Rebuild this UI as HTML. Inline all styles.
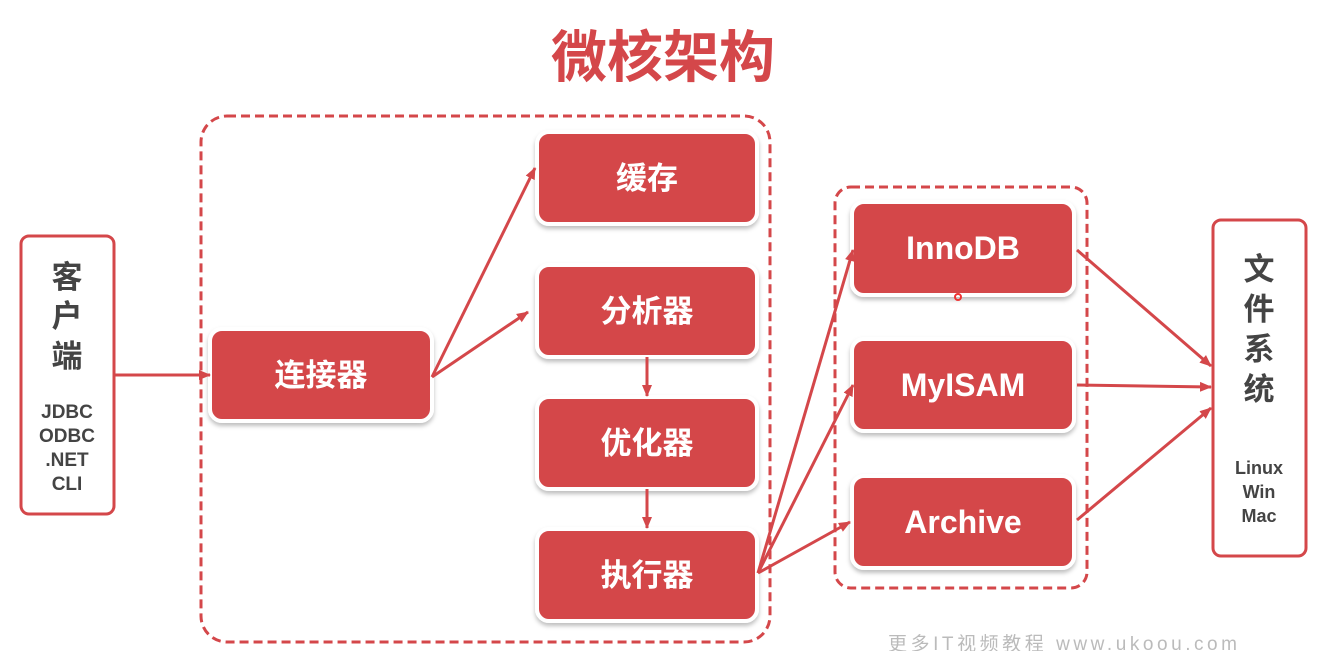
<!DOCTYPE html>
<html><head><meta charset="utf-8"><style>
body{margin:0;background:#fff;}
svg{display:block;}
text{font-family:"Liberation Sans","Noto Sans CJK SC",sans-serif;font-weight:bold;}
text.wm{font-weight:normal;}
</style></head><body>
<svg width="1325" height="651" viewBox="0 0 1325 651">
<defs>
<marker id="a" markerWidth="12" markerHeight="12" refX="11" refY="6" orient="auto" markerUnits="userSpaceOnUse"><path d="M0,1 L12,6 L0,11 z" fill="#d4474a"/></marker>
<filter id="s" x="-10%" y="-10%" width="120%" height="130%"><feDropShadow dx="0" dy="3" stdDeviation="2" flood-color="#000" flood-opacity="0.25"/></filter>
</defs>
<text x="663" y="77" text-anchor="middle" font-size="56" fill="#d4474a">微核架构</text>
<rect x="201" y="116" width="569" height="526" rx="26" fill="none" stroke="#d4474a" stroke-width="3" stroke-dasharray="9,5"/>
<rect x="835" y="187" width="252" height="401" rx="16" fill="none" stroke="#d4474a" stroke-width="3" stroke-dasharray="9,5"/>
<rect x="21" y="236" width="93" height="278" rx="8" fill="#fff" stroke="#d4474a" stroke-width="3"/>
<rect x="1213" y="220" width="93" height="336" rx="8" fill="#fff" stroke="#d4474a" stroke-width="3"/>
<g fill="#444" text-anchor="middle">
<text x="67" y="288" font-size="31">客</text><text x="67" y="327" font-size="31">户</text><text x="67" y="367" font-size="31">端</text>
<text x="67" y="418" font-size="19">JDBC</text><text x="67" y="442" font-size="19">ODBC</text><text x="67" y="466" font-size="19">.NET</text><text x="67" y="490" font-size="19">CLI</text>
<text x="1259" y="280" font-size="31">文</text><text x="1259" y="320" font-size="31">件</text><text x="1259" y="360" font-size="31">系</text><text x="1259" y="400" font-size="31">统</text>
<text x="1259" y="474" font-size="18">Linux</text><text x="1259" y="498" font-size="18">Win</text><text x="1259" y="522" font-size="18">Mac</text>
</g>
<g fill="#d4474a" stroke="#fff" stroke-width="4" filter="url(#s)">
<rect x="210" y="329" width="222" height="92" rx="12"/>
<rect x="537" y="132" width="220" height="92" rx="12"/>
<rect x="537" y="265" width="220" height="92" rx="12"/>
<rect x="537" y="397" width="220" height="92" rx="12"/>
<rect x="537" y="529" width="220" height="92" rx="12"/>
<rect x="852" y="202" width="222" height="93" rx="12"/>
<rect x="852" y="339" width="222" height="92" rx="12"/>
<rect x="852" y="476" width="222" height="92" rx="12"/>
</g>
<g fill="#fff" text-anchor="middle" font-size="31">
<text x="321" y="386">连接器</text>
<text x="647" y="189">缓存</text>
<text x="647" y="322">分析器</text>
<text x="647" y="454">优化器</text>
<text x="647" y="586">执行器</text>
<text x="963" y="259" font-size="32">InnoDB</text>
<text x="963" y="396" font-size="32">MyISAM</text>
<text x="963" y="533" font-size="32">Archive</text>
</g>
<g stroke="#d4474a" stroke-width="3" fill="none" marker-end="url(#a)">
<line x1="115" y1="375" x2="210" y2="375"/>
<line x1="432" y1="377" x2="535" y2="168"/>
<line x1="432" y1="377" x2="528" y2="312"/>
<line x1="647" y1="357" x2="647" y2="396"/>
<line x1="647" y1="489" x2="647" y2="528"/>
<line x1="758" y1="573" x2="853" y2="250"/>
<line x1="758" y1="573" x2="853" y2="385"/>
<line x1="758" y1="573" x2="850" y2="522"/>
<line x1="1077" y1="250" x2="1211" y2="366"/>
<line x1="1077" y1="385" x2="1211" y2="387"/>
<line x1="1077" y1="520" x2="1211" y2="408"/>
</g>
<circle cx="958" cy="297" r="3" fill="none" stroke="#e33" stroke-width="2"/>
<text class="wm" x="888" y="650" font-size="19" fill="#bbb" textLength="349">更多IT视频教程 www.ukoou.com</text>
</svg>
</body></html>
